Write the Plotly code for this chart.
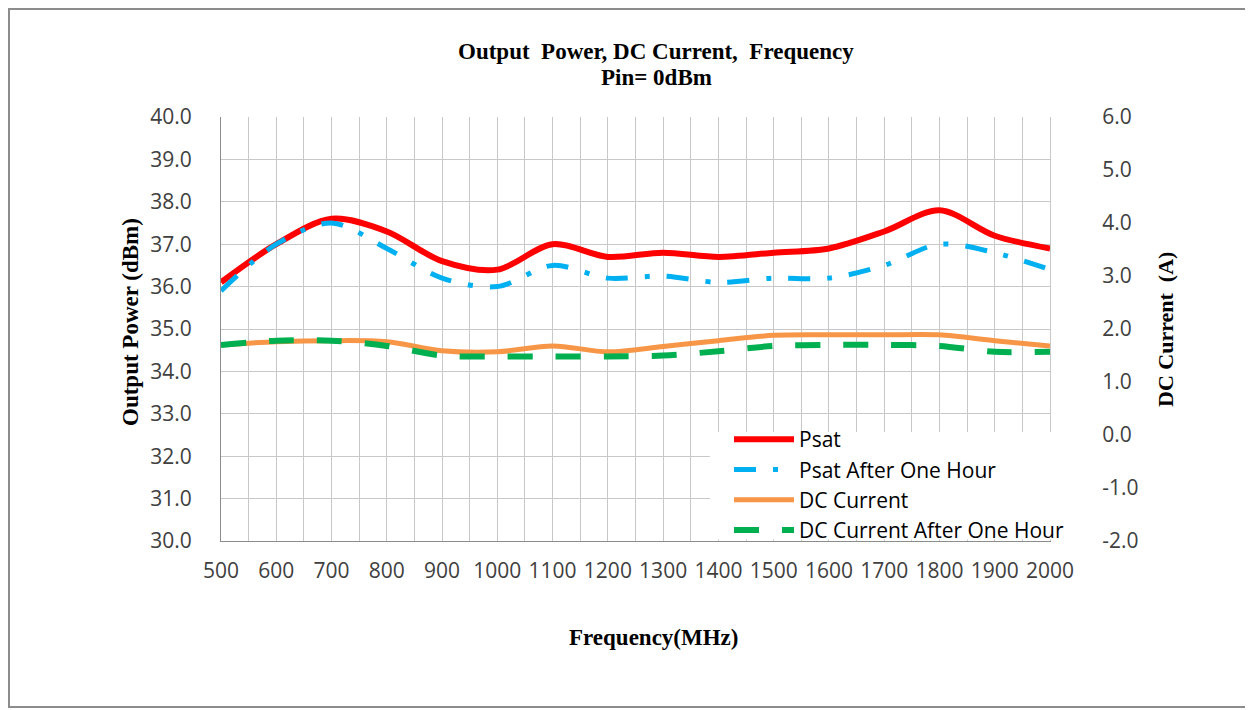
import plotly.graph_objects as go

# frequency points (MHz)
freq = [500, 600, 700, 800, 900, 1000, 1100, 1200, 1300, 1400,
        1500, 1600, 1700, 1800, 1900, 2000]

# output power (dBm), left axis
psat = [36.1, 37.0, 37.6, 37.3, 36.6, 36.4, 37.0, 36.7, 36.8, 36.7,
        36.8, 36.9, 37.3, 37.8, 37.2, 36.9]
psat_hour = [35.9, 37.0, 37.5, 36.9, 36.2, 36.0, 36.5, 36.2, 36.25, 36.1,
             36.2, 36.2, 36.5, 37.0, 36.8, 36.4]

# DC current (A), right axis
dc = [1.70, 1.76, 1.78, 1.76, 1.59, 1.57, 1.68, 1.57, 1.67, 1.78,
      1.88, 1.89, 1.89, 1.89, 1.78, 1.68]
dc_hour = [1.70, 1.78, 1.78, 1.68, 1.50, 1.48, 1.48, 1.48, 1.50, 1.58,
           1.68, 1.70, 1.70, 1.68, 1.57, 1.57]

left_ticks = [30, 31, 32, 33, 34, 35, 36, 37, 38, 39, 40]
right_ticks = [-2, -1, 0, 1, 2, 3, 4, 5, 6]

# page has an 8px body margin, so the figure is 8px smaller and shifted
W, H = 1245, 702
L, R, T, B = 213, 203, 109, 169
PW, PH = W - L - R, H - T - B
X0, Y0 = 221, 541   # plot origin in page pixels


def px(x):
    return (x - X0) / PW


def py(y):
    return (Y0 - y) / PH


TICK_FONT = dict(family="Open Sans", size=21, color="#404040")
SERIF = "Liberation Serif"

fig = go.Figure()

fig.add_trace(go.Scatter(
    x=freq, y=psat, name="Psat", mode="lines",
    line=dict(color="#FF0000", width=6, shape="spline", smoothing=0.9),
))
fig.add_trace(go.Scatter(
    x=freq, y=psat_hour, name="Psat After One Hour", mode="lines",
    line=dict(color="#00B0F0", width=5, shape="spline", smoothing=0.9,
              dash="22px,17px,5px,17px"),
))
fig.add_trace(go.Scatter(
    x=freq, y=dc, name="DC Current", mode="lines", yaxis="y2",
    line=dict(color="#F79646", width=5, shape="spline", smoothing=0.9),
))
fig.add_trace(go.Scatter(
    x=freq, y=dc_hour, name="DC Current After One Hour", mode="lines",
    yaxis="y2",
    line=dict(color="#00B050", width=6, shape="spline", smoothing=0.9,
              dash="25px,23px"),
))


def label(text, x, y, size, angle=0):
    return dict(text=text, xref="paper", yref="paper", x=px(x), y=py(y),
                xanchor="center", yanchor="middle", textangle=angle,
                showarrow=False,
                font=dict(family=SERIF, size=size, color="black"))


fig.update_layout(
    width=W, height=H,
    margin=dict(l=L, r=R, t=T, b=B),
    paper_bgcolor="white", plot_bgcolor="white",
    showlegend=True,
    xaxis=dict(
        range=[500, 2000], tickvals=freq, ticktext=[str(f) for f in freq],
        showgrid=True, gridcolor="#C8C8C8", gridwidth=1,
        minor=dict(dtick=50, showgrid=True, gridcolor="#C8C8C8"),
        showline=True, linecolor="#8C8C8C", linewidth=1, mirror=False,
        zeroline=False, tickfont=TICK_FONT, ticks="", ticklabelstandoff=11,
    ),
    yaxis=dict(
        range=[30, 40], tickvals=left_ticks,
        ticktext=[f"{v:.1f}" for v in left_ticks],
        showgrid=True, gridcolor="#C8C8C8", gridwidth=1,
        showline=True, linecolor="#8C8C8C", linewidth=1,
        zeroline=False, tickfont=TICK_FONT, ticks="", ticklabelstandoff=24,
    ),
    yaxis2=dict(
        range=[-2, 6], tickvals=right_ticks,
        ticktext=[f"{v:.1f}" for v in right_ticks],
        overlaying="y", side="right", showgrid=False,
        showline=True, linecolor="#C8C8C8", linewidth=1,
        zeroline=False, tickfont=TICK_FONT, ticks="", ticklabelstandoff=47,
    ),
    legend=dict(
        x=px(1069), xanchor="right", y=py(551), yanchor="bottom",
        bgcolor="rgba(0,0,0,0)", borderwidth=0,
        font=dict(family="Open Sans", size=21, color="black"),
        itemwidth=60, tracegroupgap=0,
    ),
    annotations=[
        label("<b>Output  Power, DC Current,  Frequency</b>", 656, 52, 23),
        label("<b>Pin= 0dBm</b>", 656, 77, 23),
        label("<b>Frequency(MHz)</b>", 653, 637, 23),
        label("<b>Output Power (dBm)</b>", 130, 322, 23, -90),
        label("<b>DC Current  (A)</b>", 1165, 330, 22, -90),
    ],
    shapes=[
        # white patch behind the legend, hiding the grid there
        dict(type="rect", xref="paper", yref="paper", layer="above",
             x0=px(710), x1=px(1053), y0=py(539.5), y1=py(432),
             line=dict(width=0), fillcolor="white"),
        # outer chart border
        dict(type="rect", xref="paper", yref="paper",
             x0=px(9), x1=px(1275), y0=py(707), y1=py(9),
             line=dict(color="#8C8C8C", width=2)),
    ],
)

fig.write_html("out.html")
